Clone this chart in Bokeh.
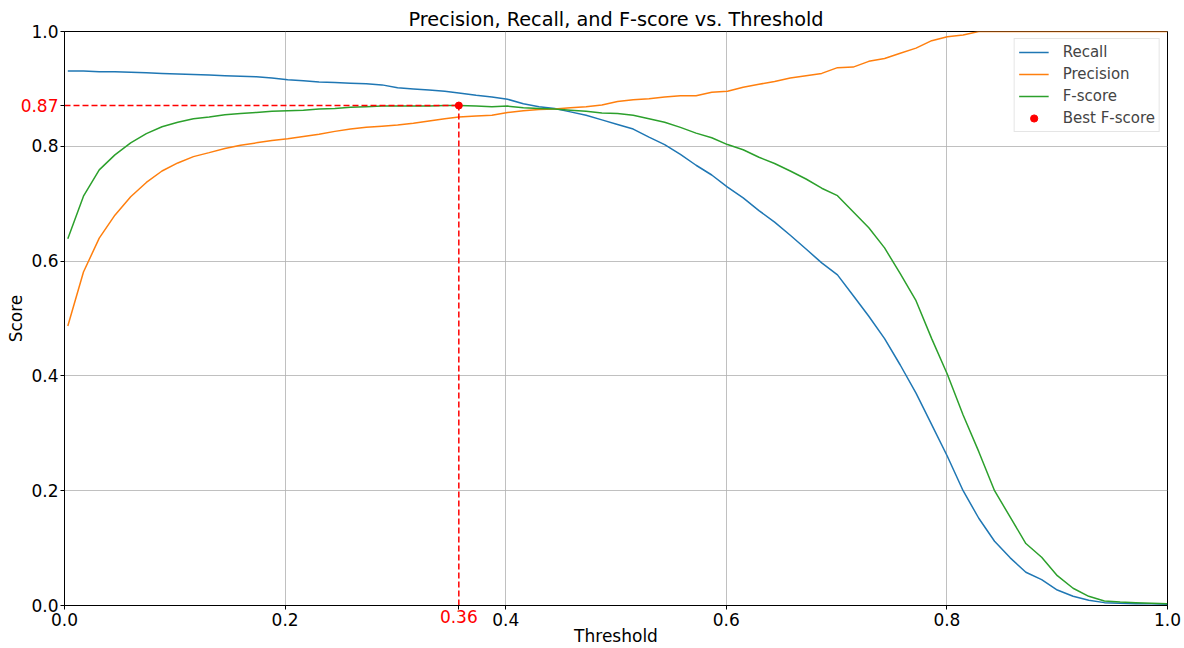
from bokeh.plotting import figure
from bokeh.models import Range1d, FixedTicker, ColumnDataSource, Legend, LegendItem
from bokeh.core.properties import value
from bokeh.embed import file_html
from bokeh.resources import INLINE

thresholds = [0.0030, 0.0172, 0.0315, 0.0457, 0.0600, 0.0742, 0.0884, 0.1027, 0.1169, 0.1312,
              0.1454, 0.1596, 0.1739, 0.1881, 0.2024, 0.2166, 0.2308, 0.2451, 0.2593, 0.2736,
              0.2878, 0.3020, 0.3163, 0.3305, 0.3448, 0.3575, 0.3732, 0.3875, 0.4017, 0.4160,
              0.4302, 0.4444, 0.4587, 0.4729, 0.4872, 0.5014, 0.5156, 0.5299, 0.5441, 0.5584,
              0.5726, 0.5868, 0.6011, 0.6153, 0.6296, 0.6438, 0.6580, 0.6723, 0.6865, 0.7008,
              0.7150, 0.7292, 0.7435, 0.7577, 0.7720, 0.7862, 0.8004, 0.8147, 0.8289, 0.8432,
              0.8574, 0.8716, 0.8859, 0.9001, 0.9144, 0.9286, 0.9428, 0.9571, 0.9713, 0.9856,
              0.9998]

recall = [0.931, 0.931, 0.930, 0.930, 0.929, 0.928, 0.927, 0.926, 0.925, 0.924,
          0.923, 0.922, 0.921, 0.919, 0.916, 0.914, 0.912, 0.911, 0.910, 0.909,
          0.907, 0.902, 0.900, 0.898, 0.896, 0.893, 0.889, 0.886, 0.882, 0.874,
          0.869, 0.866, 0.860, 0.854, 0.846, 0.838, 0.830, 0.816, 0.803, 0.786,
          0.767, 0.750, 0.729, 0.710, 0.688, 0.668, 0.645, 0.621, 0.597, 0.576,
          0.540, 0.504, 0.465, 0.419, 0.370, 0.315, 0.260, 0.200, 0.152, 0.112,
          0.083, 0.058, 0.045, 0.027, 0.016, 0.009, 0.005, 0.004, 0.003, 0.003,
          0.002]

precision = [0.487, 0.581, 0.640, 0.680, 0.712, 0.737, 0.757, 0.771, 0.782, 0.789,
             0.796, 0.802, 0.806, 0.810, 0.813, 0.817, 0.821, 0.826, 0.830, 0.833,
             0.835, 0.837, 0.840, 0.844, 0.848, 0.851, 0.853, 0.854, 0.859, 0.862,
             0.864, 0.865, 0.867, 0.869, 0.872, 0.878, 0.881, 0.883, 0.886, 0.888,
             0.888, 0.894, 0.896, 0.903, 0.908, 0.913, 0.919, 0.923, 0.927, 0.937,
             0.938, 0.948, 0.953, 0.962, 0.971, 0.984, 0.991, 0.994, 1.000, 1.000,
             1.000, 1.000, 1.000, 1.000, 1.000, 1.000, 1.000, 1.000, 1.000, 1.000,
             1.000]

fscore = [0.639, 0.713, 0.759, 0.785, 0.806, 0.822, 0.834, 0.842, 0.848, 0.851,
          0.855, 0.857, 0.859, 0.861, 0.862, 0.863, 0.865, 0.866, 0.868, 0.869,
          0.870, 0.870, 0.870, 0.870, 0.871, 0.871, 0.870, 0.869, 0.870, 0.867,
          0.866, 0.865, 0.863, 0.861, 0.858, 0.857, 0.854, 0.848, 0.842, 0.833,
          0.823, 0.815, 0.803, 0.794, 0.781, 0.770, 0.757, 0.743, 0.727, 0.714,
          0.686, 0.658, 0.623, 0.578, 0.531, 0.465, 0.403, 0.332, 0.268, 0.200,
          0.154, 0.108, 0.084, 0.052, 0.030, 0.016, 0.008, 0.006, 0.005, 0.004,
          0.003]

best_threshold = 0.3575
best_fscore = 0.871
best_threshold_label = "0.36"
best_fscore_label = "0.87"

x_ticks = [0.0, 0.2, 0.4, 0.6, 0.8, 1.0]
x_tick_labels = ["0.0", "0.2", "0.4", "0.6", "0.8", "1.0"]
y_ticks = [0.0, 0.2, 0.4, 0.6, 0.8, 1.0]
y_tick_labels = ["0.0", "0.2", "0.4", "0.6", "0.8", "1.0"]

FONT = "DejaVu Sans"
TICK_SIZE = "17px"

p = figure(width=1184, height=648, output_backend="svg", toolbar_location=None,
           x_range=Range1d(0, 1), y_range=Range1d(0, 1),
           min_border_left=64, min_border_right=17, min_border_top=31, min_border_bottom=43,
           title="Precision, Recall, and F-score vs. Threshold")

p.title.text_font = FONT
p.title.text_font_size = "19.3px"
p.title.text_font_style = "normal"
p.title.align = "center"
p.title.text_color = "black"
p.title.standoff = 2

p.background_fill_color = "white"
p.border_fill_color = "white"
p.outline_line_color = "black"
p.outline_line_width = 1

src = ColumnDataSource(dict(t=thresholds, r=recall, pr=precision, f=fscore))

r1 = p.line("t", "r", source=src, line_color="#1f77b4", line_width=1.5)
r2 = p.line("t", "pr", source=src, line_color="#ff7f0e", line_width=1.5)
r3 = p.line("t", "f", source=src, line_color="#2ca02c", line_width=1.5)

# best F-score guide lines
p.line([0, best_threshold], [best_fscore, best_fscore], line_color="red", line_dash="6 3", line_width=1.5)
p.line([best_threshold, best_threshold], [0, best_fscore], line_color="red", line_dash="6 3", line_width=1.5)
r4 = p.scatter([best_threshold], [best_fscore], size=7, color="red")

# main axes
p.xaxis.ticker = FixedTicker(ticks=x_ticks + [best_threshold])
p.yaxis.ticker = FixedTicker(ticks=y_ticks + [best_fscore])
xo = {t: l for t, l in zip(x_ticks, x_tick_labels)}
xo[best_threshold] = " "
yo = {t: l for t, l in zip(y_ticks, y_tick_labels)}
yo[best_fscore] = " "
p.xaxis.major_label_overrides = xo
p.yaxis.major_label_overrides = yo
for ax in (p.xaxis, p.yaxis):
    ax.major_label_text_font = FONT
    ax.major_label_text_font_size = TICK_SIZE
    ax.major_label_text_color = "black"
    ax.axis_label_text_font = FONT
    ax.axis_label_text_font_size = TICK_SIZE
    ax.axis_label_text_font_style = "normal"
    ax.axis_label_text_color = "black"
    ax.minor_tick_line_color = None
    ax.major_tick_out = 4
    ax.major_tick_in = 0
    ax.major_tick_line_color = "black"
    ax.axis_line_color = "black"
p.xaxis.major_label_standoff = 0
p.yaxis.major_label_standoff = 2

p.xaxis.axis_label = "Threshold"
p.yaxis.axis_label = "Score"
p.xaxis.axis_label_standoff = -7
p.yaxis.axis_label_standoff = 2

p.xgrid.ticker = FixedTicker(ticks=x_ticks)
p.ygrid.ticker = FixedTicker(ticks=y_ticks)
for g in (p.xgrid, p.ygrid):
    g.grid_line_color = "#b0b0b0"
    g.grid_line_alpha = 0.8
    g.grid_line_width = 1

# red tick labels for the best values (drawn at overlay level so they may sit beside the frame)
p.text(x=[0], y=[best_fscore], text=[best_fscore_label], x_offset=-6,
       text_align="right", text_baseline="middle", text_color="red",
       text_font=value(FONT), text_font_size=TICK_SIZE, level="overlay")
p.text(x=[best_threshold], y=[0], text=[best_threshold_label], y_offset=4,
       text_align="center", text_baseline="top", text_color="red",
       text_font=value(FONT), text_font_size=TICK_SIZE, level="overlay")

legend = Legend(items=[LegendItem(label="Recall", renderers=[r1]),
                       LegendItem(label="Precision", renderers=[r2]),
                       LegendItem(label="F-score", renderers=[r3]),
                       LegendItem(label="Best F-score", renderers=[r4])],
                location="top_right")
legend.label_text_font = FONT
legend.label_text_font_size = "15px"
legend.glyph_width = 30
legend.glyph_height = 18
legend.label_height = 18
legend.label_standoff = 14
legend.spacing = 4
legend.padding = 4
legend.margin = 7
legend.border_line_color = "#cccccc"
legend.border_line_width = 1
legend.background_fill_alpha = 0.8
p.add_layout(legend)

open("out.html", "w").write(file_html(p, INLINE))
